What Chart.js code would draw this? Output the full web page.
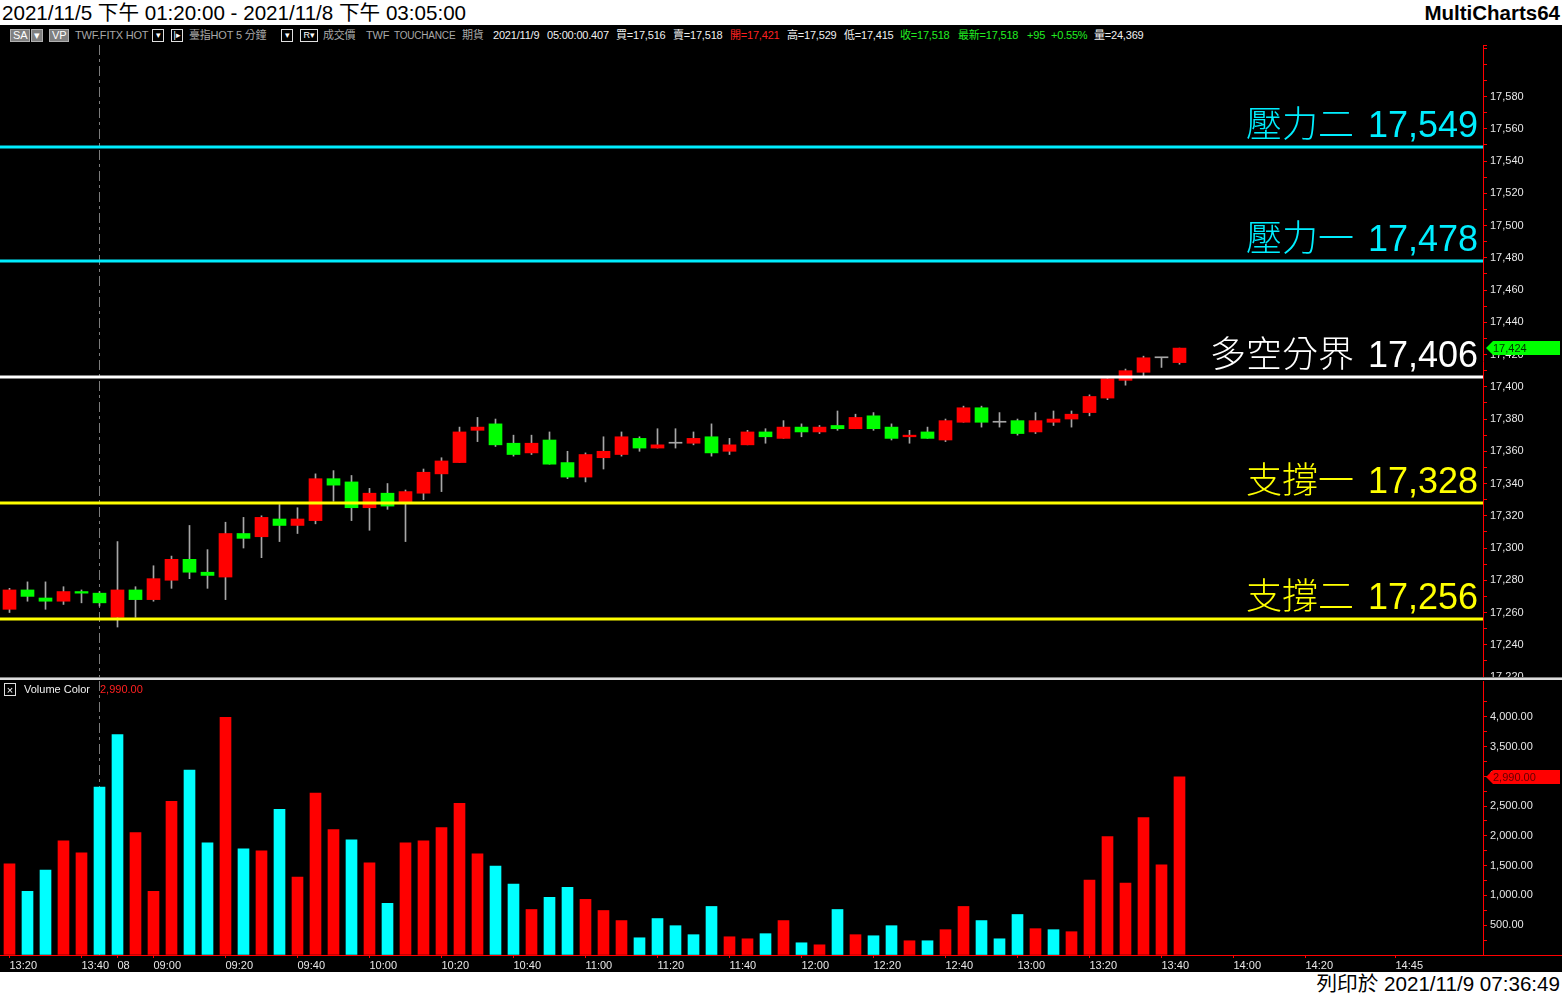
<!DOCTYPE html>
<html>
<head>
<meta charset="utf-8">
<script src="https://cdn.jsdelivr.net/npm/chart.js@4.4.0/dist/chart.umd.min.js"></script>
<style>
  html, body { margin: 0; padding: 0; background: #000; }
  body { width: 1562px; height: 995px; position: relative; overflow: hidden;
         font-family: 'Liberation Sans', 'Noto Sans CJK TC', sans-serif; }
  .abs { position: absolute; white-space: nowrap; }
  #titlebar { left: 0; top: 0; width: 1562px; height: 25px; background: #fff; }
  #titlebar .l { left: 2px; top: 0; font-size: 20.6px; line-height: 25px; color: #000; }
  #titlebar .r { right: 2px; top: 0; font-size: 20.5px; line-height: 25px; color: #000; font-weight: bold; }
  #footbar { left: 0; top: 972px; width: 1562px; height: 23px; background: #fff; }
  #footbar .r { right: 2px; top: 0; font-size: 20.6px; line-height: 24px; color: #000; }
  .st { top: 29px; font-size: 11px; line-height: 13px; color: #a8a8a8; letter-spacing: -0.2px; }
  .w { color: #f0f0f0; }
  .red { color: #ff2020; }
  .grn { color: #22ee22; }
  .gbox { background: #808080; color: #fff; padding: 0 2px; border: 1px solid #b0b0b0; line-height: 11px; }
  .bbox { border: 1px solid #e0e0e0; color: #fff; width: 10px; height: 11px; line-height: 11px; text-align: center; font-size: 9px; }
  canvas { position: absolute; left: 0; }
  #price { top: 45px; }
  #vol { top: 681px; }
  #sep { left: 0; top: 677px; width: 1562px; height: 2px; background: #dcdcdc; border-top: 1px solid #808080; }
  .vl { top: 683px; font-size: 11px; line-height: 13px; }
</style>
</head>
<body>
<div id="titlebar" class="abs">
  <span class="abs l">2021/11/5 下午 01:20:00 - 2021/11/8 下午 03:05:00</span>
  <span class="abs r">MultiCharts64</span>
</div>

<span class="abs st gbox" style="left:10px">SA</span>
<span class="abs st gbox" style="left:31px">▾</span>
<span class="abs st gbox" style="left:49px">VP</span>
<span class="abs st" style="left:75px">TWF.FITX HOT</span>
<span class="abs st bbox" style="left:152px">▾</span>
<span class="abs st bbox" style="left:171px">|▸</span>
<span class="abs st" style="left:189px">臺指HOT  5 分鐘</span>
<span class="abs st bbox" style="left:281px">▾</span>
<span class="abs st bbox" style="left:300px;width:16px">R▾</span>
<span class="abs st" style="left:323px">成交價</span>
<span class="abs st" style="left:366px">TWF</span>
<span class="abs st" style="left:394px;font-size:10px">TOUCHANCE</span>
<span class="abs st" style="left:462px">期貨</span>
<span class="abs st w" style="left:493px">2021/11/9</span>
<span class="abs st w" style="left:547px">05:00:00.407</span>
<span class="abs st w" style="left:616px">買=17,516</span>
<span class="abs st w" style="left:673px">賣=17,518</span>
<span class="abs st red" style="left:730px">開=17,421</span>
<span class="abs st w" style="left:787px">高=17,529</span>
<span class="abs st w" style="left:844px">低=17,415</span>
<span class="abs st grn" style="left:900px">收=17,518</span>
<span class="abs st grn" style="left:958px">最新=17,518</span>
<span class="abs st grn" style="left:1027px">+95</span>
<span class="abs st grn" style="left:1051px">+0.55%</span>
<span class="abs st w" style="left:1094px">量=24,369</span>

<canvas id="price" width="1562" height="632"></canvas>
<div id="sep" class="abs"></div>
<canvas id="vol" width="1562" height="291"></canvas>

<span class="abs vl bbox" style="left:4px;top:683px">×</span>
<span class="abs vl w" style="left:24px">Volume Color</span>
<span class="abs vl red" style="left:100px">2,990.00</span>

<div id="footbar" class="abs">
  <span class="abs r">列印於 2021/11/9 07:36:49</span>
</div>

<script>
// 5 分鐘 K 棒: 11/5 收盤前 + 11/8 日盤
const times = ['13:20', '13:25', '13:30', '13:35', '13:40', '13:45',
  '08:50', '08:55', '09:00', '09:05', '09:10', '09:15', '09:20', '09:25', '09:30', '09:35',
  '09:40', '09:45', '09:50', '09:55', '10:00', '10:05', '10:10', '10:15', '10:20', '10:25',
  '10:30', '10:35', '10:40', '10:45', '10:50', '10:55', '11:00', '11:05', '11:10', '11:15',
  '11:20', '11:25', '11:30', '11:35', '11:40', '11:45', '11:50', '11:55', '12:00', '12:05',
  '12:10', '12:15', '12:20', '12:25', '12:30', '12:35', '12:40', '12:45', '12:50', '12:55',
  '13:00', '13:05', '13:10', '13:15', '13:20', '13:25', '13:30', '13:35', '13:40', '13:45'];

const open = [17262, 17274, 17269, 17267, 17273, 17272, 17257, 17274, 17268, 17280,
  17293, 17285, 17282, 17309, 17307, 17318, 17314, 17317, 17343, 17341,
  17325, 17334, 17328, 17334, 17346, 17353, 17373, 17377, 17365, 17359,
  17367, 17353, 17344, 17356, 17358, 17368, 17362, 17365, 17365, 17369,
  17360, 17364, 17372, 17368, 17375, 17372, 17376, 17374, 17382, 17375,
  17369, 17372, 17367, 17378, 17387, 17378, 17379, 17372, 17378, 17380,
  17384, 17393, 17404, 17409, 17418, 17415];
const high = [17275, 17279, 17279, 17276, 17274, 17273, 17304, 17276, 17289, 17295,
  17314, 17299, 17316, 17319, 17320, 17327, 17325, 17346, 17348, 17345,
  17337, 17340, 17336, 17349, 17356, 17375, 17381, 17380, 17370, 17370,
  17372, 17360, 17359, 17369, 17372, 17369, 17374, 17374, 17372, 17377,
  17368, 17373, 17374, 17379, 17377, 17376, 17385, 17383, 17384, 17377,
  17373, 17375, 17380, 17388, 17388, 17384, 17380, 17384, 17385, 17385,
  17395, 17406, 17411, 17419, 17418, 17424];
const low = [17260, 17267, 17262, 17265, 17266, 17264, 17251, 17257, 17267, 17275,
  17281, 17275, 17268, 17300, 17294, 17304, 17309, 17315, 17329, 17317,
  17311, 17324, 17304, 17330, 17335, 17353, 17366, 17363, 17357, 17358,
  17352, 17343, 17341, 17349, 17357, 17360, 17362, 17362, 17364, 17357,
  17358, 17364, 17365, 17368, 17369, 17371, 17373, 17374, 17373, 17367,
  17365, 17368, 17366, 17378, 17375, 17375, 17370, 17371, 17376, 17375,
  17382, 17392, 17401, 17406, 17412, 17414];
const close = [17274, 17270, 17267, 17273, 17272, 17266, 17274, 17268, 17281, 17293,
  17285, 17283, 17309, 17306, 17319, 17314, 17318, 17343, 17339, 17325,
  17334, 17326, 17335, 17347, 17354, 17372, 17375, 17364, 17358, 17365,
  17352, 17344, 17358, 17360, 17369, 17362, 17364, 17365, 17368, 17359,
  17364, 17372, 17369, 17375, 17372, 17375, 17374, 17381, 17374, 17368,
  17370, 17368, 17379, 17387, 17378, 17378, 17371, 17379, 17380, 17383,
  17394, 17405, 17410, 17418, 17418, 17424];

const volume = [1529, 1070, 1426, 1918, 1715, 2817, 3701, 2055, 1070, 2580,
  3106, 1885, 3988, 1783, 1749, 2444, 1307, 2717, 2105, 1935,
  1546, 867, 1885, 1918, 2139, 2547, 1698, 1494, 1189, 764,
  968, 1137, 934, 747, 578, 289, 612, 492, 341, 815,
  306, 272, 358, 578, 205, 171, 764, 341, 323, 492,
  239, 239, 425, 815, 578, 272, 680, 442, 425, 391,
  1257, 1986, 1206, 2308, 1512, 2990];
// 1 = 紅, 0 = 青
const volUp = [1, 0, 0, 1, 1, 0, 0, 1, 1, 1, 0, 0, 1, 0, 1, 0, 1, 1, 1, 0,
  1, 0, 1, 1, 1, 1, 1, 0, 0, 1, 0, 0, 1, 1, 1, 0, 0, 0, 0, 0,
  1, 1, 0, 1, 0, 1, 0, 1, 0, 0, 1, 0, 1, 1, 0, 0, 0, 1, 0, 1,
  1, 1, 1, 1, 1, 1];

const tickPos = [0, 4, 6, 8, 12, 16, 20, 24, 28, 32, 36, 40, 44, 48, 52, 56, 60, 64, 68, 72, 77];
const tickText = ['13:20', '13:40', '08', '09:00', '09:20', '09:40', '10:00', '10:20', '10:40', '11:00',
  '11:20', '11:40', '12:00', '12:20', '12:40', '13:00', '13:20', '13:40', '14:00', '14:20', '14:45'];
const sessionBreak = 5;

const levelNames = ['壓力二', '壓力一', '多空分界', '支撐一', '支撐二'];
const levelValues = [17549, 17478, 17406, 17328, 17256];
const levelColors = ['#00eeff', '#00eeff', '#ffffff', '#ffff00', '#ffff00'];

Chart.defaults.font.family = "'Liberation Sans', sans-serif";

const idx = times.map((t, i) => i);
const last = idx.length - 1;
const xMin = -0.5 - 0.5 / 18;
const xMax = xMin + 1483 / 18;

const bodyColors = idx.map(i => close[i] > open[i] ? '#ff0000' : close[i] < open[i] ? '#00ff00' : '#a6a6a6');

const breakLine = {
    id: 'breakLine',
    beforeDatasetsDraw(chart) {
        const {ctx, chartArea: a, scales: {x}} = chart;
        const px = Math.floor(x.getPixelForValue(sessionBreak)) + 0.5;
        ctx.save();
        ctx.strokeStyle = '#7c7c7c';
        ctx.lineWidth = 1;
        ctx.setLineDash([10, 4, 3, 4]);
        ctx.beginPath();
        ctx.moveTo(px, a.top);
        ctx.lineTo(px, a.bottom);
        ctx.stroke();
        ctx.restore();
    }
};

const levels = {
    id: 'levels',
    afterDatasetsDraw(chart) {
        const {ctx, chartArea: a, scales: {y}} = chart;
        ctx.save();
        levelValues.forEach((v, k) => {
            const py = Math.round(y.getPixelForValue(v));
            ctx.fillStyle = levelColors[k];
            ctx.fillRect(a.left, py - 1.5, a.right - a.left, 3);
            const num = v.toLocaleString('en-US');
            const rx = a.right - 5;
            ctx.textAlign = 'right';
            ctx.textBaseline = 'alphabetic';
            ctx.font = '36px "Liberation Sans"';
            ctx.fillText(num, rx, py - 10);
            const w = ctx.measureText(num).width;
            ctx.font = '300 36px "Noto Sans CJK TC"';
            ctx.fillText(levelNames[k], rx - w - 14, py - 10);
        });
        ctx.restore();
    }
};

function lastMark(value, text, bg, fg) {
    return {
        id: 'lastMark',
        afterDraw(chart) {
            const {ctx, scales: {y}} = chart;
            const py = Math.round(y.getPixelForValue(value));
            const x0 = y.left + 3, x1 = chart.width - 2;
            ctx.save();
            ctx.fillStyle = bg;
            ctx.beginPath();
            ctx.moveTo(x0, py);
            ctx.lineTo(x0 + 7, py - 7);
            ctx.lineTo(x1, py - 7);
            ctx.lineTo(x1, py + 7);
            ctx.lineTo(x0 + 7, py + 7);
            ctx.closePath();
            ctx.fill();
            ctx.fillStyle = fg;
            ctx.font = '11px "Liberation Sans"';
            ctx.textAlign = 'left';
            ctx.textBaseline = 'middle';
            ctx.fillText(text, x0 + 7, py + 1);
            ctx.restore();
        }
    };
}

const baseLine = {
    id: 'baseLine',
    afterDraw(chart) {
        const {ctx, chartArea: a} = chart;
        ctx.save();
        ctx.fillStyle = '#ff0000';
        ctx.fillRect(0, a.bottom, chart.width, 1);
        ctx.restore();
    }
};

function yAxis(extra) {
    return Object.assign({
        position: 'right',
        bounds: 'data',
        afterFit(s) { s.width = 79; s.paddingTop = 0; s.paddingBottom = 0; },
        border: { color: '#ff0000', width: 1 },
        grid: { drawOnChartArea: false, tickLength: 4, color: '#ff0000' },
    }, extra);
}

const priceChart = new Chart(document.getElementById('price'), {
    type: 'bar',
    data: {
        datasets: [
            {
                label: 'body',
                data: idx.map(i => ({x: i, y: [open[i], close[i]]})),
                backgroundColor: bodyColors,
                barThickness: 13,
                minBarLength: 1,
                grouped: false,
                order: 0,
            },
            {
                label: 'wick',
                data: idx.map(i => ({x: i, y: [low[i], high[i]]})),
                backgroundColor: '#a6a6a6',
                barThickness: 1,
                grouped: false,
                order: 1,
            }
        ]
    },
    options: {
        responsive: false,
        animation: false,
        events: [],
        layout: { padding: 0 },
        plugins: { legend: { display: false }, tooltip: { enabled: false } },
        scales: {
            x: { type: 'linear', min: xMin, max: xMax, bounds: 'data', offset: false,
                 grid: { offset: false }, display: false },
            y: yAxis({
                min: 17220, max: 17612,
                ticks: {
                    stepSize: 10, autoSkip: false, includeBounds: false, padding: 3,
                    color: '#e6e6e6', font: { size: 11 },
                    callback: v => (v % 20 === 0 && v < 17600) ? v.toLocaleString('en-US') : ''
                }
            })
        }
    },
    plugins: [breakLine, levels, lastMark(close[last], close[last].toLocaleString('en-US'), '#00ff00', '#003300')]
});

const volChart = new Chart(document.getElementById('vol'), {
    type: 'bar',
    data: {
        datasets: [{
            label: 'Volume',
            data: idx.map(i => ({x: i, y: volume[i]})),
            backgroundColor: idx.map(i => volUp[i] ? '#ff0000' : '#00ffff'),
            barThickness: 11,
            grouped: false,
        }]
    },
    options: {
        responsive: false,
        animation: false,
        events: [],
        layout: { padding: 0 },
        plugins: { legend: { display: false }, tooltip: { enabled: false } },
        scales: {
            x: {
                type: 'linear', min: xMin, max: xMax, bounds: 'data', offset: false,
                afterBuildTicks(s) { s.ticks = tickPos.map(v => ({value: v})); },
                afterFit(s) { s.height = 17; s.paddingLeft = 0; s.paddingRight = 0; },
                border: { display: false },
                grid: { offset: false, drawOnChartArea: false, tickLength: 3, color: '#ff0000' },
                ticks: {
                    autoSkip: false, maxRotation: 0, align: 'start', padding: 1,
                    color: '#e6e6e6', font: { size: 11 },
                    callback: v => tickText[tickPos.indexOf(v)]
                }
            },
            y: yAxis({
                min: 0, max: 4600,
                grid: {
                    drawOnChartArea: false, tickLength: 4,
                    color: ctx => (ctx.tick && ctx.tick.value > 4250) ? 'rgba(0,0,0,0)' : '#ff0000'
                },
                ticks: {
                    stepSize: 250, autoSkip: false, includeBounds: false, padding: 3,
                    color: '#e6e6e6', font: { size: 11 },
                    callback: v => (v % 500 === 0 && v > 0 && v <= 4000)
                        ? v.toLocaleString('en-US', { minimumFractionDigits: 2 }) : ''
                }
            })
        }
    },
    plugins: [breakLine, baseLine, lastMark(volume[last], volume[last].toLocaleString('en-US', { minimumFractionDigits: 2 }), '#ff0000', '#600000')]
});
</script>
</body>
</html>
